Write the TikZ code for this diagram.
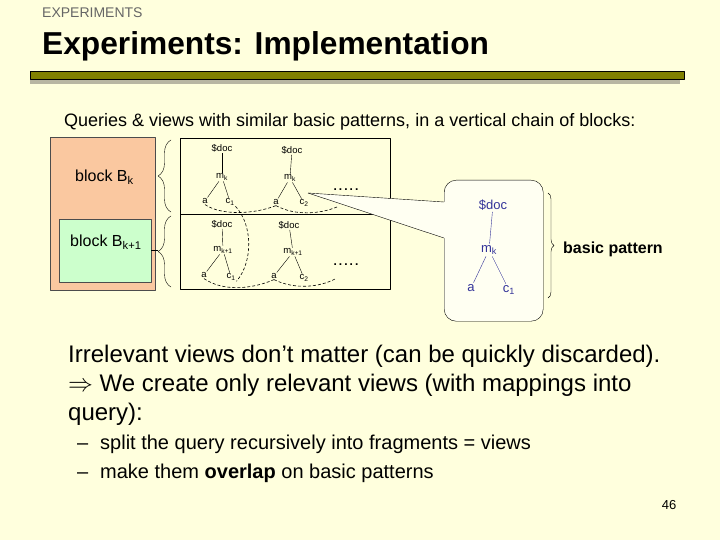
\documentclass[tikz,border=0pt]{standalone}
\usepackage{fontspec}
\setmainfont{Liberation Sans}
\usetikzlibrary{decorations.pathreplacing,calc}
\definecolor{Cream}{HTML}{FFFFDD}
\definecolor{Peach}{HTML}{FAC8A0}
\definecolor{Mint}{HTML}{CCFFCC}
\definecolor{Olive}{HTML}{808000}
\definecolor{Shade}{HTML}{B8B6A2}
\definecolor{Navy}{HTML}{333399}
\definecolor{Balloon}{HTML}{FFFFF2}

\begin{document}
\begin{tikzpicture}[x=1pt,y=-1pt,line join=round]
\tikzset{
  tnode/.style={inner sep=0.8pt,font=\fontsize{9.5}{9.5}\selectfont},
  cnode/.style={inner sep=1.5pt,text=Navy,font=\fontsize{13}{13}\selectfont},
  overlap/.style={line width=0.6pt,dash pattern=on 3pt off 2pt},
  bracket/.style={decorate,decoration={brace,amplitude=#1}},
  plain/.style={anchor=base west,inner sep=0pt},
  more/.style={font=\fontsize{12}{12}\selectfont\bfseries},
}
\useasboundingbox[fill=Cream] (0,0) rectangle (720,540);
% header
\node[plain,text=black!60,font=\fontsize{14}{14}\selectfont] (section) at (42,18) {EXPERIMENTS};
\node[plain,font=\fontsize{31.7}{32}\selectfont\bfseries] (title) at (42,55) {Experiments: Implementation};
\fill[Shade] (30,76) rectangle (680,84);
\draw[fill=Olive,line width=0.8pt] (30,71) rectangle (684,79);
\node[plain,font=\fontsize{18}{18}\selectfont] (intro) at (64,127) {Queries \& views with similar basic patterns, in a vertical chain of blocks:};
% blocks
\node[draw=black!70,fill=Peach,anchor=north west,minimum width=105pt,minimum height=153pt] (blockk) at (50,137) {};
\node[draw=black!70,fill=Mint,anchor=north west,minimum width=92pt,minimum height=63pt] (blockkk) at (59,219) {};
\node[plain,font=\fontsize{16}{16}\selectfont] (namek) at (75,182) {block B\textsubscript{k}};
\node[plain,font=\fontsize{16}{16}\selectfont] (namekk) at (70,247) {block B\textsubscript{k+1}};
\draw[bracket=13pt] (171,212) -- (171,140);
\draw[bracket=13pt] (171,287) -- (171,216);
\draw[line width=1.2pt] (blockkk.east) -- ++(7,0);
% query frame
\draw (180,138) rectangle (390,289);
\draw (180,214) -- (390,214);
% upper trees
\node[tnode] (d1) at (222,148) {\$doc};
\node[tnode] (m1) at (222,177) {m\textsubscript{k}};
\node[tnode] (a1) at (205,201) {a};
\node[tnode] (c1) at (230,202) {c\textsubscript{1}};
\node[tnode] (d2) at (292,150) {\$doc};
\node[tnode] (m2) at (290,178) {m\textsubscript{k}};
\node[tnode] (a2) at (276,202) {a};
\node[tnode] (c2) at (304,203) {c\textsubscript{2}};
\draw (d1) -- (m1); \draw (m1) -- (a1); \draw (m1) -- (c1);
\draw (d2) -- (m2); \draw (m2) -- (a2); \draw (m2) -- (c2);
% lower trees
\node[tnode] (d3) at (222,224) {\$doc};
\node[tnode] (m3) at (223,250) {m\textsubscript{k+1}};
\node[tnode] (a3) at (204,275) {a};
\node[tnode] (c3) at (231,277) {c\textsubscript{1}};
\node[tnode] (d4) at (289,225) {\$doc};
\node[tnode] (m4) at (293,252) {m\textsubscript{k+1}};
\node[tnode] (a4) at (274,276) {a};
\node[tnode] (c4) at (304,278) {c\textsubscript{2}};
\draw (d3) -- (m3); \draw (m3) -- (a3); \draw (m3) -- (c3);
\draw (d4) -- (m4); \draw (m4) -- (a4); \draw (m4) -- (c4);
% overlaps
\coordinate (uend) at (337,207);
\coordinate (lend) at (335,279);
\draw[overlap] (a1.south) .. controls (222,216) and (255,214) .. (a2.south);
\draw[overlap] (a2.south) .. controls (295,216) and (320,214) .. (uend);
\draw[overlap] (c1.south east) .. controls (253,225) and (253,262) .. (c3.south east);
\draw[overlap] (a3.south) .. controls (222,291) and (250,290) .. (a4.south);
\draw[overlap] (a4.south) .. controls (295,290) and (320,287) .. (lend);
% callout
\node[draw,rounded corners=12pt,fill=Balloon,anchor=north west,minimum width=99pt,minimum height=141pt] (balloon) at (444,180) {};
\coordinate (tip) at (308,193);
\coordinate (w1) at ($(balloon.north west)+(0,22)$);
\coordinate (w2) at ($(balloon.north west)+(0,58)$);
\fill[Balloon] (tip) -- (w1) -- ++(2,0) -- ($(w2)+(2,0)$) -- (w2) -- cycle;
\draw (tip) -- (w1);
\draw (tip) -- (w2);
\node[more] (more1) at (346,190) {.\,.\,.\,.\,.};
\node[more] (more2) at (346,265) {.\,.\,.\,.\,.};
\node[cnode] (cd) at (493,205) {\$doc};
\node[cnode] (cm) at (489,250) {m\textsubscript{k}};
\node[cnode] (ca) at (471,288) {a};
\node[cnode] (cc) at (509,290) {c\textsubscript{1}};
\draw[Navy] (cd) -- (cm); \draw[Navy] (cm) -- (ca); \draw[Navy] (cm) -- (cc);
\draw[bracket=6pt] (548,193) -- (548,298);
\node[plain,font=\fontsize{16}{16}\selectfont\bfseries] (basic) at (563,253) {basic pattern};
% body
\node[plain,font=\fontsize{24}{24}\selectfont] (line1) at (68,362) {Irrelevant views don’t matter (can be quickly discarded).};
\node[plain,font=\fontsize{24}{24}\selectfont] (line2) at (68,391) {$\Rightarrow$ We create only relevant views (with mappings into};
\node[plain,font=\fontsize{24}{24}\selectfont] (line3) at (68,420) {query):};
\node[plain,font=\fontsize{20}{20}\selectfont] (dash1) at (77,449) {–};
\node[plain,font=\fontsize{20}{20}\selectfont] (item1) at (100,449) {split the query recursively into fragments = views};
\node[plain,font=\fontsize{20}{20}\selectfont] (dash2) at (77,478) {–};
\node[plain,font=\fontsize{20}{20}\selectfont] (item2) at (100,478) {make them \textbf{overlap} on basic patterns};
\node[anchor=base,inner sep=0pt,font=\fontsize{13}{13}\selectfont] (page) at (669,509) {46};
\end{tikzpicture}
\end{document}
